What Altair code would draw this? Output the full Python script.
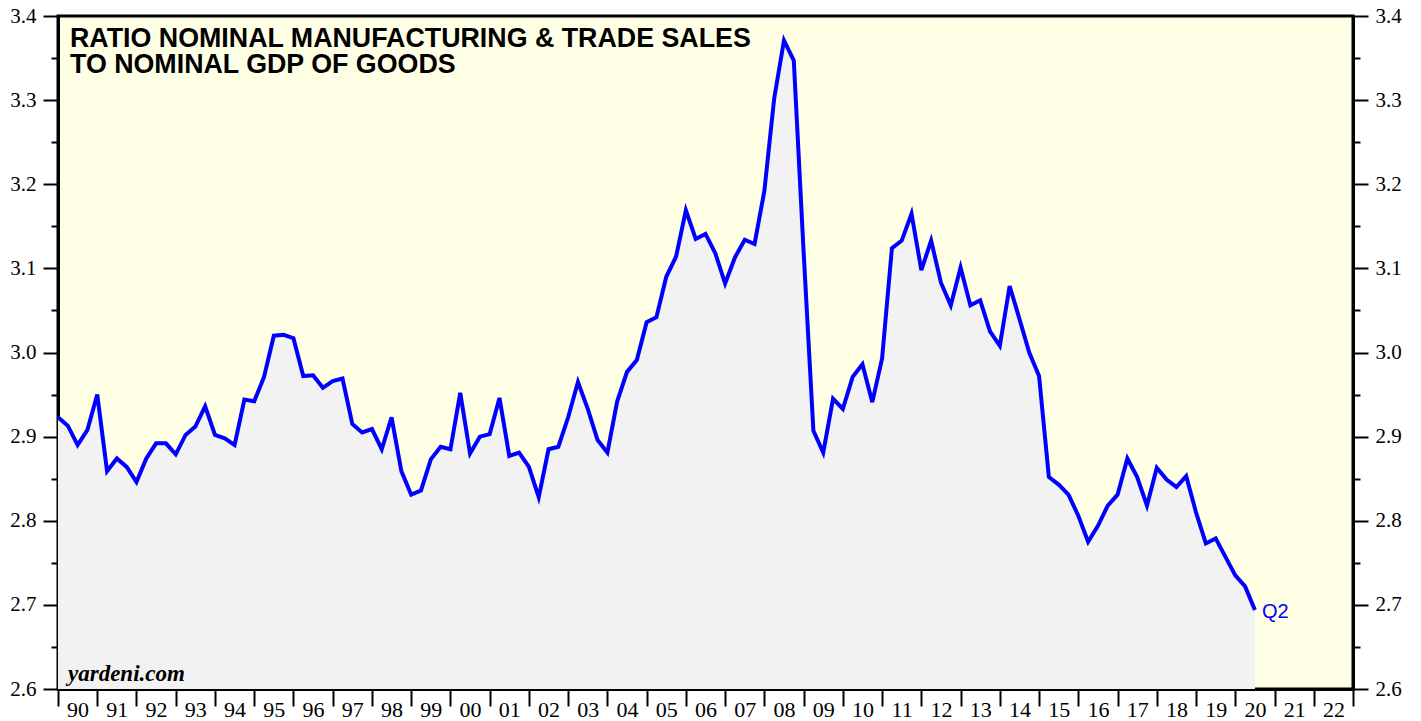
import altair as alt
import pandas as pd

# Quarterly observations, 1989Q4 .. 2020Q2 (plotted at quarter end)
start_year = 1990.0
ratio = [
    2.923, 2.913, 2.890, 2.908, 2.950, 2.859, 2.874, 2.864, 2.846, 2.874,
    2.892, 2.892, 2.879, 2.902, 2.912, 2.936, 2.902, 2.898, 2.890, 2.944,
    2.942, 2.971, 3.020, 3.021, 3.017, 2.972, 2.973, 2.958, 2.966, 2.969,
    2.915, 2.905, 2.909, 2.885, 2.923, 2.859, 2.831, 2.836, 2.873, 2.888,
    2.885, 2.952, 2.880, 2.900, 2.903, 2.946, 2.877, 2.881, 2.864, 2.828,
    2.885, 2.888, 2.923, 2.965, 2.933, 2.896, 2.881, 2.942, 2.977, 2.991,
    3.036, 3.042, 3.090, 3.114, 3.169, 3.135, 3.141, 3.118, 3.082, 3.113,
    3.134, 3.129, 3.192, 3.302, 3.371, 3.347, 3.120, 2.907, 2.881, 2.945,
    2.933, 2.971, 2.986, 2.941, 2.993, 3.124, 3.133, 3.165, 3.098, 3.133,
    3.083, 3.056, 3.101, 3.056, 3.062, 3.025, 3.008, 3.079, 3.040, 3.000,
    2.972, 2.852, 2.843, 2.831, 2.806, 2.775, 2.794, 2.818, 2.831, 2.874,
    2.852, 2.818, 2.863, 2.849, 2.840, 2.853, 2.810, 2.773, 2.779, 2.757,
    2.735, 2.722, 2.694,
]
dates = [start_year + 0.25 * i for i in range(len(ratio))]

year_ticks = list(range(1990, 2024))
y_ticks = [round(2.6 + 0.05 * i, 2) for i in range(17)]
title_lines = ["RATIO NOMINAL MANUFACTURING & TRADE SALES", "TO NOMINAL GDP OF GOODS"]
source_text = "yardeni.com"
last_label = "Q2"

df = pd.DataFrame({"t": dates, "v": ratio})
last_df = df.tail(1).assign(lab=last_label)

W, H = 1295, 673
px_per_year = W / 33.0

xscale = alt.Scale(domain=[1990, 2023], nice=False, zero=False)
yscale = alt.Scale(domain=[2.6, 3.4], nice=False, zero=False)

major_test = "abs(round(datum.value*10) - datum.value*10) < 0.001"

x_axis = alt.Axis(
    values=year_ticks, title=None, grid=False,
    tickSize=17, tickWidth=2, tickColor="black",
    domainColor="black", domainWidth=3,
    labelExpr="datum.value < 2023 ? substring(toString(datum.value), 2, 4) : ''",
    labelOffset=px_per_year / 2, labelAlign="center", labelBaseline="alphabetic",
    labelPadding=10, labelFlush=False, labelOverlap=False,
    labelFont="serif", labelFontSize=22, labelColor="black",
)


def y_axis(orient):
    return alt.Axis(
        orient=orient, values=y_ticks, title=None, grid=False,
        tickSize={"condition": {"test": major_test, "value": 15}, "value": 7},
        tickWidth=2, tickColor="black",
        domainColor="black", domainWidth=3,
        labelExpr=major_test + " ? format(datum.value, '.1f') : ''",
        labelPadding=7, labelFlush=False, labelOverlap=False,
        labelFont="serif", labelFontSize=21, labelColor="black",
    )


area = alt.Chart(df).mark_area(color="#F2F2F2", opacity=1).encode(
    x=alt.X("t:Q", scale=xscale, axis=x_axis),
    y=alt.Y("v:Q", scale=yscale, axis=y_axis("left")),
    y2=alt.datum(2.6),
)

line = alt.Chart(df).mark_line(color="#0000FF", strokeWidth=4, strokeJoin="miter").encode(
    x=alt.X("t:Q", scale=xscale, axis=x_axis),
    y=alt.Y("v:Q", scale=yscale, axis=y_axis("right")),
)

q2 = alt.Chart(last_df).mark_text(
    align="left", baseline="middle", dx=7, dy=2,
    font="Liberation Sans", fontSize=20, color="#0000FF",
).encode(
    x=alt.X("t:Q", scale=xscale, axis=x_axis),
    y=alt.Y("v:Q", scale=yscale, axis=None),
    text="lab:N",
)

one = pd.DataFrame({"a": [0]})
title1 = alt.Chart(one).mark_text(
    text=title_lines[0], align="left", baseline="alphabetic",
    font="Liberation Sans", fontWeight="bold", fontSize=26.8, color="black",
).encode(x=alt.value(12), y=alt.value(31))
title2 = alt.Chart(one).mark_text(
    text=title_lines[1], align="left", baseline="alphabetic",
    font="Liberation Sans", fontWeight="bold", fontSize=26.8, color="black",
).encode(x=alt.value(12), y=alt.value(57))

source = alt.Chart(one).mark_text(
    text=source_text, align="left", baseline="alphabetic",
    font="Liberation Serif", fontWeight="bold", fontStyle="italic", fontSize=23,
    color="black",
).encode(x=alt.value(10), y=alt.value(665))

chart = (
    alt.layer(area, line, q2, title1, title2, source)
    .resolve_axis(y="independent")
    .properties(
        width=W, height=H,
        autosize=alt.AutoSizeParams(type="none"),
        padding={"left": 50, "top": 8, "right": 60, "bottom": 31},
        background="white",
    )
    .configure_view(fill="#FFFFE6", stroke="black", strokeWidth=3)
)

chart.save("out.html", embed_options={"renderer": "svg", "actions": False})
